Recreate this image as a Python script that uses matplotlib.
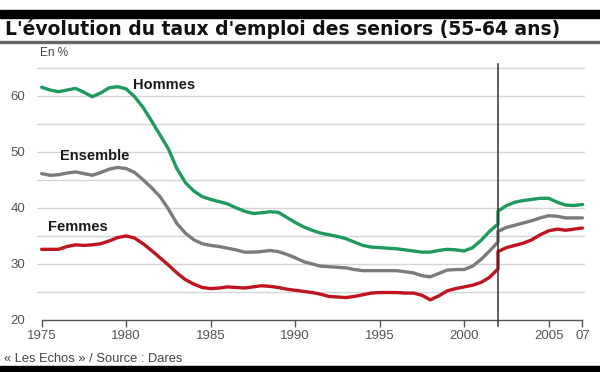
import numpy as np
import matplotlib
matplotlib.use("Agg")
import matplotlib.pyplot as plt

# semestrial readings, old series up to 2002, new series from 2002
years_old = np.arange(1975, 2002.5, 0.5)
years_new = np.arange(2002, 2007.5, 0.5)

hommes_old = [61.5, 61.0, 60.7, 61.0, 61.3, 60.6, 59.8, 60.5, 61.4, 61.6,
              61.2, 59.8, 57.9, 55.5, 53.0, 50.5, 47.0, 44.5, 43.0, 42.0,
              41.5, 41.1, 40.7, 40.0, 39.4, 39.0, 39.1, 39.3, 39.2, 38.3,
              37.4, 36.6, 36.0, 35.5, 35.2, 34.9, 34.5, 33.9, 33.3, 33.0,
              32.9, 32.8, 32.7, 32.5, 32.3, 32.1, 32.1, 32.4, 32.6, 32.5,
              32.3, 32.9, 34.2, 35.8, 37.1]
hommes_new = [39.4, 40.4, 41.0, 41.3, 41.5, 41.7, 41.7, 41.0, 40.5, 40.4, 40.6]

ensemble_old = [46.1, 45.8, 45.9, 46.2, 46.4, 46.1, 45.8, 46.3, 46.9, 47.2,
                47.0, 46.3, 45.0, 43.6, 42.0, 39.8, 37.2, 35.5, 34.3, 33.6,
                33.3, 33.1, 32.8, 32.5, 32.1, 32.1, 32.2, 32.4, 32.2, 31.7,
                31.1, 30.4, 30.0, 29.6, 29.5, 29.4, 29.3, 29.0, 28.8, 28.8,
                28.8, 28.8, 28.8, 28.6, 28.4, 27.9, 27.7, 28.3, 28.9, 29.0,
                29.0, 29.6, 30.8, 32.3, 33.9]
ensemble_new = [35.8, 36.5, 36.9, 37.3, 37.7, 38.2, 38.6, 38.5, 38.2, 38.2, 38.2]

femmes_old = [32.6, 32.6, 32.6, 33.1, 33.4, 33.3, 33.4, 33.6, 34.1, 34.7,
              35.0, 34.6, 33.6, 32.4, 31.1, 29.8, 28.4, 27.2, 26.4, 25.8,
              25.6, 25.7, 25.9, 25.8, 25.7, 25.9, 26.1, 26.0, 25.8, 25.5,
              25.3, 25.1, 24.9, 24.6, 24.2, 24.1, 24.0, 24.2, 24.5, 24.8,
              24.9, 24.9, 24.9, 24.8, 24.8, 24.4, 23.6, 24.3, 25.2, 25.6,
              25.9, 26.2, 26.7, 27.6, 29.1]
femmes_new = [32.2, 32.9, 33.3, 33.7, 34.3, 35.2, 35.9, 36.2, 36.0, 36.2, 36.4]

xticks = [1975, 1980, 1985, 1990, 1995, 2000, 2005, 2007]
xlabels = ["1975", "1980", "1985", "1990", "1995", "2000", "2005", "07"]
yticks = [20, 30, 40, 50, 60]
break_year = 2002

series = [
    ("Hommes", hommes_old, hommes_new, "#1f9a5e", (1980.4, 61.9)),
    ("Ensemble", ensemble_old, ensemble_new, "#7b7b7b", (1976.1, 49.3)),
    ("Femmes", femmes_old, femmes_new, "#c0141e", (1975.4, 36.6)),
]

narrow = ["Liberation Sans Narrow", "Liberation Sans", "DejaVu Sans"]

fig = plt.figure(figsize=(6, 3.72), dpi=100)
ax = fig.add_axes([0.061, 0.1398, 0.914, 0.686])

# grid every 5 points
for g in range(25, 70, 5):
    ax.axhline(g, color="#d4d4d4", lw=1.0, zorder=1)

x_all = np.concatenate([years_old, years_new])
for name, old, new, col, pos in series:
    ax.plot(x_all, old + new, color=col, lw=2.4, solid_capstyle="round",
            solid_joinstyle="round", zorder=3)
    ax.text(pos[0], pos[1], name, fontsize=10.5, fontweight="bold",
            family=["Liberation Sans", "DejaVu Sans"], color="#1a1a1a",
            va="center", ha="left", zorder=4)

ax.axvline(break_year, ymin=-0.025, ymax=1.005, color="#333333", lw=1.1,
           clip_on=False, zorder=5)

ax.set_xlim(1974.7, 2007.15)
ax.set_ylim(20, 65.5)
ax.set_xticks(xticks)
ax.set_xticklabels(xlabels, family=narrow, fontsize=9.5, color="#555555")
ax.set_yticks(yticks)
ax.set_yticklabels([str(v) for v in yticks], family=narrow, fontsize=9.5,
                   color="#555555")
ax.tick_params(axis="y", length=0, pad=8)
ax.tick_params(axis="x", length=5, width=1, color="#555555", pad=2, direction="out")
for s in ["top", "right", "left"]:
    ax.spines[s].set_visible(False)
ax.spines["bottom"].set_bounds(1975, 2007)
ax.spines["bottom"].set_color("#555555")
ax.spines["bottom"].set_linewidth(1.0)

# header and footer
fig.patches.append(plt.Rectangle((0, 1 - 17.5 / 372), 1, 7.5 / 372,
                                 transform=fig.transFigure, color="black"))
fig.patches.append(plt.Rectangle((0, 1 - 43 / 372), 1, 1.6 / 372,
                                 transform=fig.transFigure, color="#666666"))
fig.patches.append(plt.Rectangle((0, 0), 1, 6 / 372,
                                 transform=fig.transFigure, color="black"))
fig.text(5 / 600, 1 - 29 / 372, "L'évolution du taux d'emploi des seniors (55-64 ans)",
         fontsize=13.5, fontweight="bold", family="DejaVu Sans",
         color="#111111", va="center", ha="left")
fig.text(40 / 600, 1 - 53 / 372, "En %", fontsize=8.5, family=narrow,
         color="#444444", va="center", ha="left")
fig.text(4 / 600, 1 - 359 / 372, "« Les Echos » / Source : Dares", fontsize=9.3,
         family=narrow, color="#444444", va="center", ha="left")

fig.savefig("out.png", dpi=100)
